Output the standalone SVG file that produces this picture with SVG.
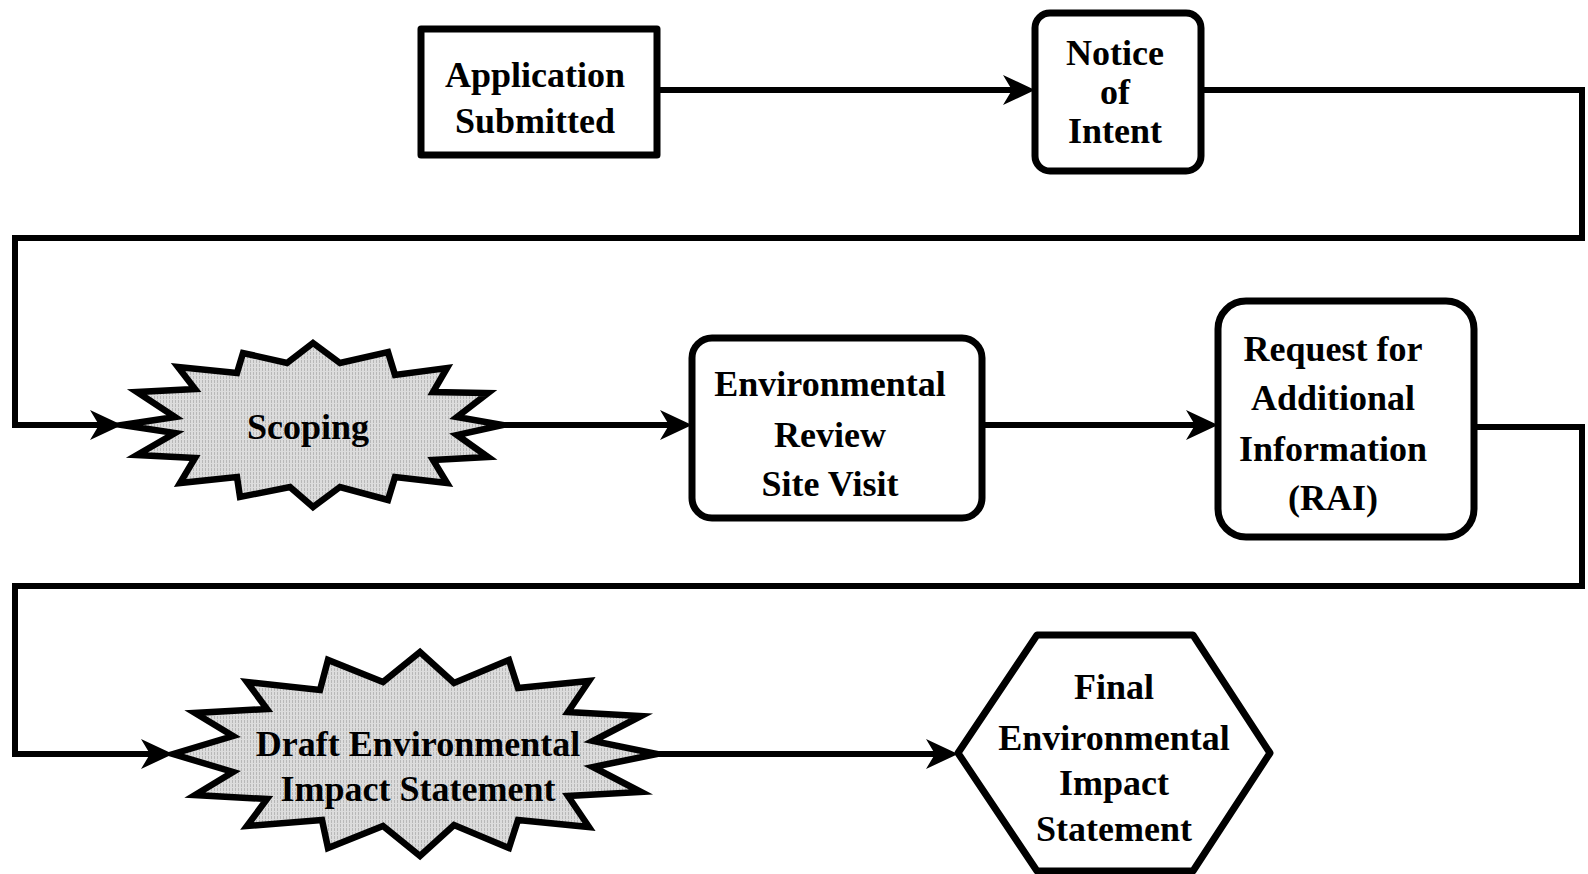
<svg xmlns="http://www.w3.org/2000/svg" width="1588" height="874" viewBox="0 0 1588 874">
  <style>
    .box { fill: #ffffff; stroke: #000000; stroke-width: 7; stroke-linejoin: round; }
    .burst { fill: url(#stipple); stroke: #000000; stroke-width: 6.5; stroke-linejoin: miter; stroke-miterlimit: 10; }
    .wire { fill: none; stroke: #000000; stroke-width: 6; stroke-linejoin: miter; }
    .label { font-family: "Liberation Serif", "Times New Roman", serif; font-weight: bold; font-size: 36px; fill: #000000; text-anchor: middle; }
  </style>
  <defs>
    <!-- grainy light-grey fill used inside the starbursts -->
    <pattern id="stipple" width="3" height="4" patternUnits="userSpaceOnUse">
      <rect width="3" height="4" fill="#dcdcdc"/>
      <rect x="1" y="0" width="1" height="3" fill="#b8b8b8"/>
    </pattern>
    <!-- barbed arrowhead; the line stops at the notch -->
    <marker id="arrow" markerUnits="userSpaceOnUse" viewBox="0 0 32 32" markerWidth="32" markerHeight="32" refX="9" refY="16" orient="auto">
      <path d="M0,1 L32,16 L0,31 L9,16 Z" fill="#000000"/>
    </marker>
  </defs>

  <rect width="1588" height="874" fill="#ffffff"/>

  <!-- connectors -->
  <g id="connectors">
    <path class="wire" d="M657,90 H1012" marker-end="url(#arrow)"/>
    <path class="wire" d="M1201,90 H1582 V238 H15 V425 H99" marker-end="url(#arrow)"/>
    <path class="wire" d="M503,425 H669" marker-end="url(#arrow)"/>
    <path class="wire" d="M982,425 H1195" marker-end="url(#arrow)"/>
    <path class="wire" d="M1474,427 H1582 V586 H15 V754 H150" marker-end="url(#arrow)"/>
    <path class="wire" d="M657,754 H935" marker-end="url(#arrow)"/>
  </g>

  <g id="application-submitted">
    <rect class="box" x="421" y="29" width="236" height="126"/>
    <text class="label" x="535" y="87">Application</text>
    <text class="label" x="535" y="133">Submitted</text>
  </g>

  <g id="notice-of-intent">
    <rect class="box" x="1035" y="13" width="166" height="158" rx="15" ry="15"/>
    <text class="label" x="1115" y="65">Notice</text>
    <text class="label" x="1115" y="104">of</text>
    <text class="label" x="1115" y="143">Intent</text>
  </g>

  <g id="scoping">
    <polygon class="burst" points="122,425 175,417 137,392 195,389 178,367 237,373 243,353 287,363 313,343 340,363 388,352 395,375 447,368 433,392 488,393 457,417 503,425 457,435 488,457 433,460 447,483 395,477 388,500 340,487 313,507 290,487 240,497 237,477 180,483 195,458 137,455 175,433"/>
    <text class="label" x="308" y="439">Scoping</text>
  </g>

  <g id="environmental-review">
    <rect class="box" x="692" y="338" width="290" height="180" rx="20" ry="20"/>
    <text class="label" x="830" y="396">Environmental</text>
    <text class="label" x="830" y="447">Review</text>
    <text class="label" x="830" y="496">Site Visit</text>
  </g>

  <g id="request-additional-information">
    <rect class="box" x="1218" y="301" width="256" height="236" rx="28" ry="28"/>
    <text class="label" x="1333" y="361">Request for</text>
    <text class="label" x="1333" y="410">Additional</text>
    <text class="label" x="1333" y="461">Information</text>
    <text class="label" x="1333" y="510">(RAI)</text>
  </g>

  <g id="draft-eis">
    <polygon class="burst" points="173,754 233,736 195,713 267,709 247,682 320,690 328,660 383,682 420,652 454,683 509,660 518,688 589,681 568,712 641,716 593,741 657,754 593,767 641,792 568,796 589,827 518,820 509,848 454,825 420,856 383,826 328,848 322,820 247,826 267,799 195,795 233,772"/>
    <text class="label" x="418" y="756">Draft Environmental</text>
    <text class="label" x="418" y="801">Impact Statement</text>
  </g>

  <g id="final-eis">
    <polygon class="box" points="958,753 1037,635 1193,635 1270,753 1193,871 1037,871" stroke-linejoin="miter"/>
    <text class="label" x="1114" y="699">Final</text>
    <text class="label" x="1114" y="750">Environmental</text>
    <text class="label" x="1114" y="795">Impact</text>
    <text class="label" x="1114" y="841">Statement</text>
  </g>
</svg>
